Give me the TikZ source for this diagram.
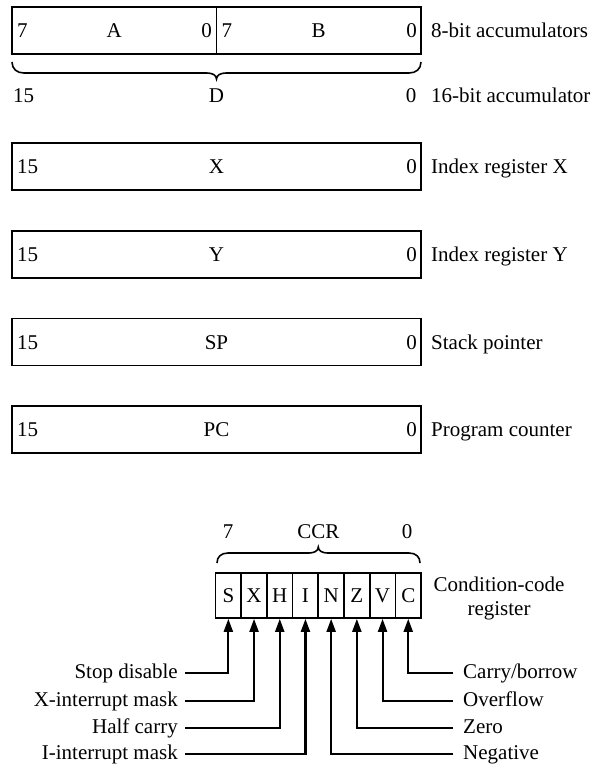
\documentclass[tikz,border=0pt]{standalone}
\usepackage{fontspec}
\setmainfont{Liberation Serif}
\usetikzlibrary{arrows.meta}
\begin{document}
\begin{tikzpicture}[x=1pt,y=-1pt, font=\fontsize{21}{25}\selectfont,
  regbox/.style={draw, line width=1.7pt, minimum width=409pt, minimum height=47pt, inner sep=0pt},
  halfbox/.style={draw, line width=1.7pt, minimum width=204.5pt, minimum height=47pt, inner sep=0pt},
  cell/.style={draw, line width=1.7pt, minimum width=25.7pt, minimum height=45pt, inner sep=0pt},
  txt/.style={inner sep=0pt},
  flagl/.style={inner xsep=7pt, inner ysep=0pt, text height=14pt, text depth=4pt, anchor=east},
  flagr/.style={inner xsep=10pt, inner ysep=0pt, text height=14pt, text depth=4pt, anchor=west},
  conn/.style={line width=2.1pt, -{Triangle[length=13pt,width=9pt]}},
  bracepath/.style={line width=1.6pt}
]
\fill[white] (0,0) rectangle (596,766);
\useasboundingbox (0,0) rectangle (596,766);

% accumulators A, B
\node[halfbox] (A) at (114.25,30.5) {};
\node[halfbox] (B) at (318.75,30.5) {};
\node[txt, anchor=base west] (a7) at (17,37.5) {7};
\node[txt, anchor=base] (an) at (114.25,37.5) {A};
\node[txt, anchor=base east] (a0) at (212,37.5) {0};
\node[txt, anchor=base west] (b7) at (221.5,37.5) {7};
\node[txt, anchor=base] (bn) at (318.75,37.5) {B};
\node[txt, anchor=base east] (b0) at (417,37.5) {0};
\node[txt, anchor=base west] (lab8) at (431,37.5) {8-bit accumulators};

% brace D
\draw[bracepath] (12,62) .. controls (12,69) and (17,73) .. (24,73) -- (207,73)
  .. controls (212,73) and (216.5,75) .. (216.5,79)
  .. controls (216.5,75) and (221,73) .. (226,73) -- (409,73)
  .. controls (416,73) and (421,69) .. (421,62);
\node[txt, anchor=base west] (d15) at (13,102) {15};
\node[txt, anchor=base] (dn) at (216.5,102) {D};
\node[txt, anchor=base] (d0) at (411,102) {0};
\node[txt, anchor=base west] (lab16) at (431,102) {16-bit accumulator};

% X
\node[regbox] (X) at (216.5,166.5) {};
\node[txt, anchor=base west] (x15) at (17,173.5) {15};
\node[txt, anchor=base] (xn) at (216.5,173.5) {X};
\node[txt, anchor=base east] (x0) at (417,173.5) {0};
\node[txt, anchor=base west] (labx) at (431,173.5) {Index register X};

% Y
\node[regbox] (Y) at (216.5,254.5) {};
\node[txt, anchor=base west] (y15) at (17,261.5) {15};
\node[txt, anchor=base] (yn) at (216.5,261.5) {Y};
\node[txt, anchor=base east] (y0) at (417,261.5) {0};
\node[txt, anchor=base west] (laby) at (431,261.5) {Index register Y};

% SP
\node[regbox] (SP) at (216.5,342) {};
\node[txt, anchor=base west] (s15) at (17,349) {15};
\node[txt, anchor=base] (sn) at (216.5,349) {SP};
\node[txt, anchor=base east] (s0) at (417,349) {0};
\node[txt, anchor=base west] (labs) at (431,349) {Stack pointer};

% PC
\node[regbox] (PC) at (216.5,429.5) {};
\node[txt, anchor=base west] (p15) at (17,436.5) {15};
\node[txt, anchor=base] (pn) at (216.5,436.5) {PC};
\node[txt, anchor=base east] (p0) at (417,436.5) {0};
\node[txt, anchor=base west] (labp) at (431,436.5) {Program counter};

% CCR
\node[txt, anchor=base] (c7) at (228,538) {7};
\node[txt, anchor=base] (ccr) at (318.3,538) {CCR};
\node[txt, anchor=base] (c0) at (407,538) {0};
\draw[bracepath] (217,563) .. controls (217,557) and (221,553) .. (228,553) -- (309,553)
  .. controls (314,553) and (318.3,551) .. (318.3,547)
  .. controls (318.3,551) and (322.6,553) .. (327.6,553) -- (409,553)
  .. controls (416,553) and (420,557) .. (420,563);

\foreach \n/\l [count=\i from 0] in {cS/S,cX/X,cH/H,cI/I,cN/N,cZ/Z,cV/V,cC/C}{
  \node[cell] (\n) at ({215.5+25.7*(\i+0.5)},595.5) {};
  \node[txt, anchor=base] at ({215.5+25.7*(\i+0.5)},602.5) {\l};
}
\node[txt, anchor=base] (cc1) at (499,591) {Condition-code};
\node[txt, anchor=base] (cc2) at (499,615) {register};

% flag labels
\node[flagl] (lS) at (185,673) {Stop disable};
\node[flagl] (lX) at (185,701) {X-interrupt mask};
\node[flagl] (lH) at (185,728) {Half carry};
\node[flagl] (lI) at (185,754) {I-interrupt mask};
\node[flagr] (lC) at (453,673) {Carry/borrow};
\node[flagr] (lV) at (453,701) {Overflow};
\node[flagr] (lZ) at (453,728) {Zero};
\node[flagr] (lN) at (453,754) {Negative};

\draw[conn] (lS.east) -| (cS.south);
\draw[conn] (lX.east) -| (cX.south);
\draw[conn] (lH.east) -| (cH.south);
\draw[conn] (lI.east) -| (cI.south);
\draw[conn] (lC.west) -| (cC.south);
\draw[conn] (lV.west) -| (cV.south);
\draw[conn] (lZ.west) -| (cZ.south);
\draw[conn] (lN.west) -| (cN.south);
\end{tikzpicture}
\end{document}
